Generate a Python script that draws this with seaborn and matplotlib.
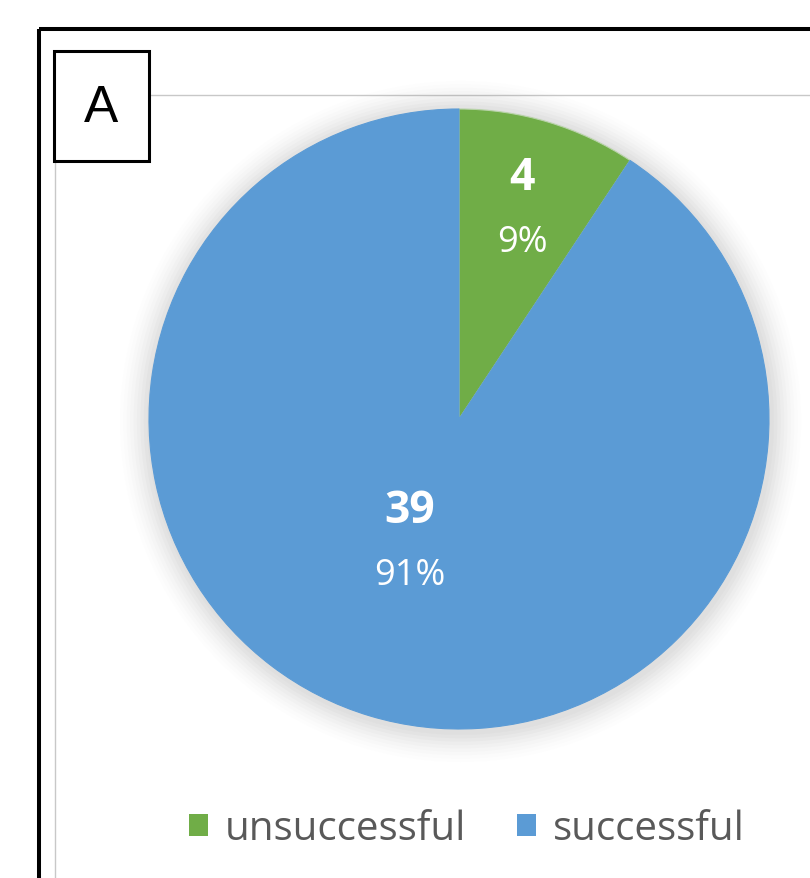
import matplotlib
matplotlib.use("Agg")
import matplotlib.pyplot as plt
import seaborn as sns
import numpy as np
from matplotlib.patches import Rectangle, Circle

sns.set_theme(style="white")
plt.rcParams['font.family'] = ['Open Sans', 'DejaVu Sans']

categories = ["unsuccessful", "successful"]
counts = [4, 39]
colors = ["#70AD47", "#5B9BD5"]
label_radius = [0.705, 0.43]
label_angle_shift = [0.0, -5.0]
panel_label = "A"

W, H = 810, 879
fig = plt.figure(figsize=(W / 100, H / 100), dpi=100)
fig.patch.set_facecolor("white")

# overlay axes in pixel coordinates (y down)
bg = fig.add_axes([0, 0, 1, 1])
bg.set_xlim(0, W)
bg.set_ylim(H, 0)
bg.axis("off")

# outer black frame
bg.add_patch(Rectangle((39, 30), 820, 900, fill=False, ec="black", lw=2.9, zorder=5))
# inner gray chart border
bg.plot([54.5, 54.5], [96, H + 5], color="#c8c8c8", lw=1.0, zorder=4)
bg.plot([54.5, W + 5], [96, 96], color="#c8c8c8", lw=1.0, zorder=4)
# panel label box
bg.add_patch(Rectangle((54, 52), 95, 110, fc="white", ec="black", lw=2.2, zorder=6))
bg.text(101.5, 108, panel_label, fontsize=37, ha="center", va="center",
        family=["Liberation Sans", "DejaVu Sans"], color="black", zorder=7)

# pie axes
cx, cy, R = 459, 420, 310
s = 1.1
pax = fig.add_axes([(cx - R * s) / W, (H - cy - R * s) / H, 2 * R * s / W, 2 * R * s / H])
pax.set_zorder(3)

# soft shadow
for i, a in enumerate(np.linspace(0.045, 0.01, 9)):
    pax.add_patch(Circle((0.005, -0.008), 1.0 + 0.011 * (i + 1), fc="#808080",
                         ec="none", alpha=a, zorder=0, clip_on=False))

wedges, _ = pax.pie(counts, colors=colors, startangle=90, counterclock=False,
                    radius=1.0, wedgeprops=dict(lw=0.8, ec="#b8d3a8"))
for w in wedges:
    w.set_zorder(2)
wedges[1].set_edgecolor("#5B9BD5")

total = sum(counts)
for w, c, r, sh in zip(wedges, counts, label_radius, label_angle_shift):
    mid = np.deg2rad((w.theta1 + w.theta2) / 2 + sh)
    x, y = r * np.cos(mid), r * np.sin(mid)
    pct = round(100 * c / total)
    pax.text(x, y + 0.105, str(c), ha="center", va="center", color="white",
             fontsize=32, fontweight="bold", zorder=5)
    pax.text(x, y - 0.105, f"{pct}%", ha="center", va="center", color="white",
             fontsize=26, zorder=5)
pax.set_xlim(-s, s)
pax.set_ylim(-s, s)
pax.set_aspect("equal")
pax.axis("off")

# legend
handles = [Rectangle((0, 0), 1, 1, fc=col, ec="none") for col in colors]
leg = fig.legend(handles, categories, loc="center", bbox_to_anchor=(467 / W, 1 - 830 / H),
                 ncol=2, frameon=False, fontsize=29, handlelength=0.47, handleheight=0.47,
                 handletextpad=0.42, columnspacing=1.25, labelcolor="#595959")

fig.savefig("out.png", dpi=100, facecolor="white")
